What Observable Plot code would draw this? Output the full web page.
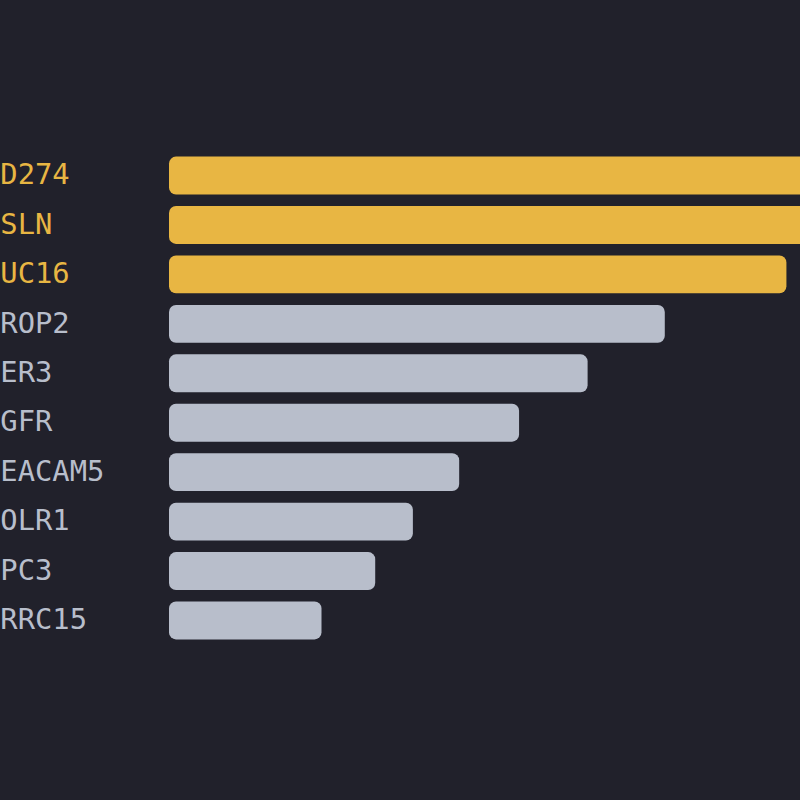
<!DOCTYPE html>
<html>
<head>
<meta charset="utf-8">
<script src="https://cdn.jsdelivr.net/npm/d3@7"></script>
<script src="https://cdn.jsdelivr.net/npm/@observablehq/plot@0.6"></script>
<style>
  html, body { margin: 0; padding: 0; background: #21212b; overflow: hidden; }
  #chart { width: 800px; height: 800px; overflow: hidden; }
</style>
</head>
<body>
<div id="chart"></div>
<script>
// Data (arbitrary units)
const targets = ["CD274", "MSLN", "MUC16", "TROP2", "HER3", "EGFR", "CEACAM5", "FOLR1", "GPC3", "LRRC15"];
const values  = [130, 115, 100, 80.3, 67.8, 56.7, 47.0, 39.5, 33.4, 24.7];
const groups  = ["top", "top", "top", "other", "other", "other", "other", "other", "other", "other"];

const data = targets.map((t, i) => ({target: t, value: values[i], group: groups[i]}));

const chart = Plot.plot({
  width: 800,
  height: 800,
  marginLeft: 169,
  marginRight: 0,
  marginTop: 145,
  marginBottom: 149,
  style: {background: "#21212b", fontFamily: "'DejaVu Sans Mono', monospace"},
  x: {domain: [0, 102.2], axis: null},
  y: {domain: targets, padding: 0.235, round: false, axis: null},
  color: {domain: ["top", "other"], range: ["#e8b643", "#b8becb"]},
  marks: [
    Plot.barX(data, {x: "value", y: "target", fill: "group", rx: 7}),
    Plot.text(data, {
      x: 0, y: "target", text: "target", fill: "group",
      textAnchor: "start", dx: -186.5, dy: -1, fontSize: 28.8
    })
  ]
});
document.getElementById("chart").appendChild(chart);
</script>
</body>
</html>
